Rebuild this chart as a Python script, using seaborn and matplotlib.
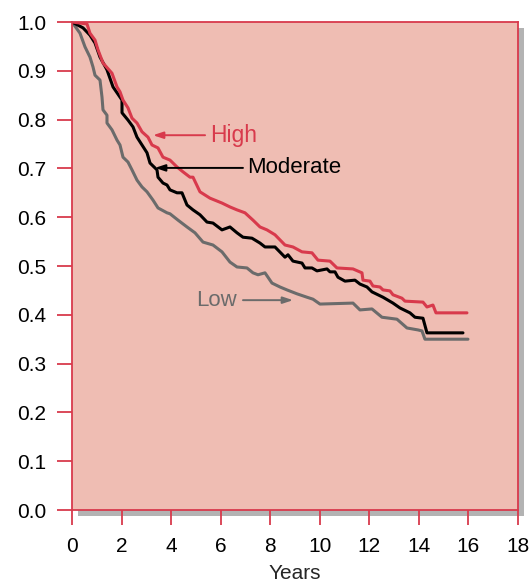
import matplotlib
matplotlib.use("Agg")
import matplotlib.pyplot as plt
from matplotlib.patches import Rectangle
import seaborn as sns
import pandas as pd

high_x = [0, 0.605, 0.726, 0.928, 1.049, 1.251, 1.614, 1.816, 1.937, 2.058, 2.260, 2.421, 2.623, 2.825,
          3.067, 3.228, 3.470, 3.672, 3.955, 4.237, 4.479, 4.762, 4.883, 5.165, 5.569, 6.053, 6.376, 6.659,
          6.981, 7.304, 7.587, 7.869, 8.192, 8.596, 8.918, 9.282, 9.685, 9.927, 10.412, 10.694, 11.340,
          11.703, 11.743, 12.026, 12.147, 12.429, 12.551, 12.833, 12.954, 13.317, 13.438, 14.165, 14.326,
          14.568, 14.689, 15.940]
high_y = [1.000, 0.996, 0.977, 0.963, 0.943, 0.916, 0.895, 0.867, 0.857, 0.840, 0.824, 0.803, 0.793, 0.775,
          0.764, 0.748, 0.742, 0.723, 0.717, 0.703, 0.693, 0.682, 0.682, 0.652, 0.639, 0.629, 0.621, 0.615,
          0.609, 0.594, 0.580, 0.574, 0.564, 0.543, 0.539, 0.529, 0.527, 0.512, 0.510, 0.496, 0.494,
          0.486, 0.471, 0.469, 0.459, 0.457, 0.451, 0.449, 0.441, 0.434, 0.428, 0.426, 0.416,
          0.420, 0.404, 0.404]

mod_x = [0, 0.444, 0.726, 0.928, 1.130, 1.412, 1.655, 2.018, 2.018, 2.260, 2.462, 2.623, 2.825, 3.027,
         3.148, 3.430, 3.471, 3.672, 3.834, 3.955, 4.237, 4.439, 4.641, 4.883, 5.165, 5.448, 5.690, 6.053,
         6.376, 6.659, 6.901, 7.264, 7.587, 7.789, 8.192, 8.596, 8.717, 8.918, 9.282, 9.403, 9.685, 9.887,
         10.291, 10.412, 10.613, 10.734, 11.017, 11.420, 11.622, 11.905, 12.107, 12.551, 12.954, 13.237,
         13.640, 13.842, 14.165, 14.326, 15.779]
mod_y = [1.000, 0.988, 0.973, 0.957, 0.928, 0.902, 0.867, 0.840, 0.814, 0.799, 0.785, 0.764, 0.748, 0.732,
         0.711, 0.697, 0.682, 0.670, 0.666, 0.656, 0.650, 0.650, 0.625, 0.615, 0.605, 0.590, 0.588, 0.574,
         0.580, 0.568, 0.559, 0.557, 0.547, 0.539, 0.539, 0.518, 0.523, 0.510, 0.506, 0.496, 0.496, 0.490,
         0.494, 0.488, 0.488, 0.477, 0.469, 0.471, 0.463, 0.457, 0.447, 0.436, 0.424, 0.414,
         0.404, 0.395, 0.393, 0.363, 0.363]

low_x = [0, 0.323, 0.525, 0.726, 0.847, 0.928, 1.130, 1.211, 1.251, 1.412, 1.412, 1.614, 1.816, 1.937,
         2.058, 2.260, 2.421, 2.623, 2.825, 3.027, 3.269, 3.471, 3.834, 3.955, 4.278, 4.641, 4.964, 5.287,
         5.690, 6.053, 6.376, 6.659, 7.062, 7.304, 7.506, 7.789, 8.071, 8.394, 8.676, 9.080, 9.484, 9.726,
         10.008, 11.340, 11.622, 12.107, 12.510, 13.115, 13.519, 13.963, 14.124, 14.245, 15.981]
low_y = [1.000, 0.977, 0.949, 0.928, 0.908, 0.891, 0.881, 0.846, 0.820, 0.809, 0.793, 0.779, 0.758, 0.748,
         0.723, 0.713, 0.697, 0.676, 0.662, 0.652, 0.635, 0.619, 0.609, 0.607, 0.594, 0.580, 0.568, 0.549,
         0.543, 0.529, 0.508, 0.498, 0.496, 0.486, 0.482, 0.486, 0.465, 0.457, 0.451, 0.443, 0.436, 0.432,
         0.422, 0.424, 0.410, 0.412, 0.395, 0.391, 0.373, 0.369, 0.367, 0.350, 0.350]

x_ticks = [0, 2, 4, 6, 8, 10, 12, 14, 16, 18]
y_ticks = [0.0, 0.1, 0.2, 0.3, 0.4, 0.5, 0.6, 0.7, 0.8, 0.9, 1.0]
x_label = "Years"

RED = "#d83a4c"
GRAY = "#6b6b6b"
BG = "#efbdb3"
SHADOW = "#b3b3b3"

sns.set_style("white")
plt.rcParams["font.family"] = ["Liberation Sans", "DejaVu Sans"]

frames = []
for name, xs, ys in [("High", high_x, high_y), ("Moderate", mod_x, mod_y), ("Low", low_x, low_y)]:
    frames.append(pd.DataFrame({"Years": xs, "Survival": ys, "Group": name}))
df = pd.concat(frames, ignore_index=True)

W, H = 530, 582
fig = plt.figure(figsize=(W / 100, H / 100), dpi=100)
L, R, T, B = 72, 518, 22, 510
ax = fig.add_axes([L / W, 1 - B / H, (R - L) / W, (B - T) / H])

# drop shadow
fig.add_artist(Rectangle(((L + 6) / W, 1 - (B + 6) / H), (R - L) / W, (B - T) / H,
                         transform=fig.transFigure, facecolor=SHADOW, edgecolor="none", zorder=-1))

ax.set_facecolor(BG)
sns.lineplot(data=df, x="Years", y="Survival", hue="Group", sort=False, estimator=None,
             palette={"High": RED, "Moderate": "black", "Low": GRAY},
             hue_order=["Low", "Moderate", "High"], linewidth=2.2, legend=False, ax=ax)

ax.set_xlim(0, 18)
ax.set_ylim(0, 1.0)
ax.set_xticks(x_ticks)
ax.set_xticklabels([str(t) for t in x_ticks])
ax.set_yticks(y_ticks)
ax.set_yticklabels([f"{t:.1f}" for t in y_ticks])
ax.set_xlabel(x_label, fontsize=15, labelpad=5.5)
ax.set_ylabel("")
for s in ax.spines.values():
    s.set_color(RED)
    s.set_linewidth(1.3)
ax.tick_params(axis="both", direction="out", length=11, width=1.3, color=RED,
               labelsize=15, labelcolor="black", bottom=True, left=True)
ax.tick_params(axis="y", pad=7.5)
ax.tick_params(axis="x", pad=8.5)

ax.annotate("", xy=(3.27, 0.768), xytext=(5.37, 0.768),
            arrowprops=dict(arrowstyle="-|>,head_length=0.6,head_width=0.2", color=RED, lw=1.4,
                            shrinkA=0, shrinkB=0))
ax.text(5.58, 0.768, "High", color=RED, fontsize=16.5, va="center", ha="left")

ax.annotate("", xy=(3.35, 0.701), xytext=(6.9, 0.701),
            arrowprops=dict(arrowstyle="-|>,head_length=0.6,head_width=0.2", color="black", lw=1.4,
                            shrinkA=0, shrinkB=0))
ax.text(7.08, 0.701, "Moderate", color="black", fontsize=16, va="center", ha="left")

ax.annotate("", xy=(8.92, 0.430), xytext=(6.9, 0.430),
            arrowprops=dict(arrowstyle="-|>,head_length=0.6,head_width=0.2", color=GRAY, lw=1.4,
                            shrinkA=0, shrinkB=0))
ax.text(6.65, 0.430, "Low", color=GRAY, fontsize=16, va="center", ha="right")

fig.savefig("out.png", dpi=100)
